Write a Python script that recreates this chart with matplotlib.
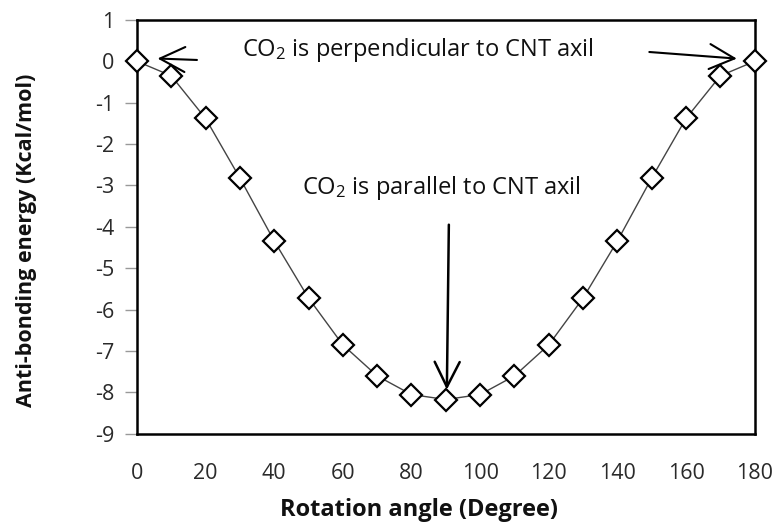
import matplotlib
matplotlib.use("Agg")
import matplotlib.pyplot as plt

plt.rcParams['font.family'] = ['Open Sans', 'DejaVu Sans']
plt.rcParams['mathtext.fontset'] = 'custom'
plt.rcParams['mathtext.rm'] = 'Open Sans'
plt.rcParams['mathtext.it'] = 'Open Sans:italic'
plt.rcParams['mathtext.bf'] = 'Open Sans:bold'
plt.rcParams['axes.unicode_minus'] = False

angles = [0, 10, 20, 30, 40, 50, 60, 70, 80, 90, 100, 110, 120, 130, 140, 150, 160, 170, 180]
energy = [0, -0.35, -1.38, -2.82, -4.34, -5.72, -6.85, -7.6, -8.05, -8.17, -8.05, -7.6, -6.85, -5.72, -4.34, -2.82, -1.38, -0.35, 0]
x_ticks = [0, 20, 40, 60, 80, 100, 120, 140, 160, 180]
y_ticks = [1, 0, -1, -2, -3, -4, -5, -6, -7, -8, -9]

fig = plt.figure(figsize=(7.78, 5.24), dpi=100)
ax = fig.add_axes([0.176, 0.172, 0.794, 0.790])

ax.plot(angles, energy, color='#444444', lw=1.0, zorder=2, clip_on=False)
ax.plot(angles, energy, ls='none', marker='D', ms=11, mfc='white', mec='black', mew=1.6,
        zorder=3, clip_on=False)

ax.set_xlim(0, 180)
ax.set_ylim(-9, 1)
ax.set_xticks(x_ticks)
ax.set_yticks(y_ticks)
ax.tick_params(axis='x', length=0, pad=21, labelsize=15.5, labelcolor='#2a2a2a')
ax.tick_params(axis='y', length=9, width=1.0, pad=7, labelsize=15.5,
               colors='#999999', labelcolor='#2a2a2a')

for s in ax.spines.values():
    s.set_linewidth(1.8)
    s.set_color('black')

ax.set_xlabel('Rotation angle (Degree)', fontsize=17, fontweight='bold', color='#111111')
ax.set_ylabel('Anti-bonding energy (Kcal/mol)', fontsize=15.5, fontweight='bold', color='#111111')
ax.xaxis.label.set_va('center')
ax.yaxis.label.set_va('center')
ax.xaxis.set_label_coords(0.456, -0.183)
ax.yaxis.set_label_coords(-0.178, 0.467)

ax.text(81.8, 0.27, r'CO$_\mathregular{2}$ is perpendicular to CNT axil', fontsize=17,
        ha='center', va='center', color='#111111')
ax.annotate('', xy=(5.2, 0.07), xytext=(18.3, 0.03),
            arrowprops=dict(arrowstyle='->, head_length=0.5, head_width=0.25',
                            color='black', lw=1.5, mutation_scale=36))
ax.annotate('', xy=(175.6, 0.06), xytext=(148.5, 0.23),
            arrowprops=dict(arrowstyle='->, head_length=0.5, head_width=0.25',
                            color='black', lw=1.5, mutation_scale=36))

ax.text(88.8, -3.06, r'CO$_\mathregular{2}$ is parallel to CNT axil', fontsize=17,
        ha='center', va='center', color='#111111')
ax.annotate('', xy=(90.3, -8.0), xytext=(90.9, -3.88),
            arrowprops=dict(arrowstyle='->, head_length=0.5, head_width=0.25',
                            color='black', lw=1.8, mutation_scale=36))

fig.savefig('out.png', dpi=100)
